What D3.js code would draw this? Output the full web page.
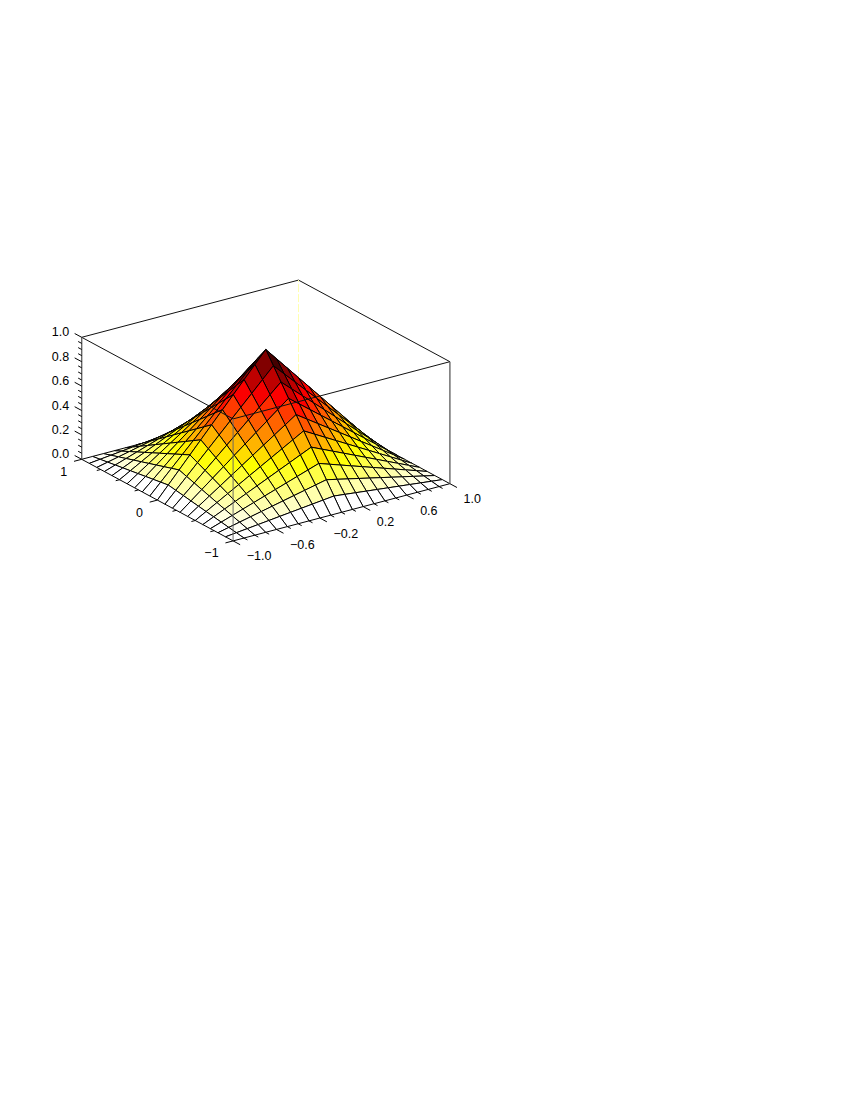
<!DOCTYPE html>
<html>
<head>
<meta charset="utf-8">
<script src="https://cdn.jsdelivr.net/npm/d3@7"></script>
<style>
body { margin: 0; background: white; }
text { font-family: "Liberation Sans", sans-serif; font-size: 12.5px; fill: #000; }
</style>
</head>
<body>
<script>
var width = 850,
	height = 1100;

// grid positions on both floor axes
var xValues = [-1.0, -0.9, -0.8, -0.7, -0.6, -0.5, -0.4, -0.3, -0.2, -0.1, 0, 0.1, 0.2, 0.3, 0.4, 0.5, 0.6, 0.7, 0.8, 0.9, 1.0];
var yValues = [-1.0, -0.9, -0.8, -0.7, -0.6, -0.5, -0.4, -0.3, -0.2, -0.1, 0, 0.1, 0.2, 0.3, 0.4, 0.5, 0.6, 0.7, 0.8, 0.9, 1.0];

// surface heights, one row per yValue
var zRows = [
	[0, 0, 0, 0, 0, 0, 0, 0, 0, 0, 0, 0, 0, 0, 0, 0, 0, 0, 0, 0, 0],
	[0, .01, .02, .03, .04, .05, .06, .07, .08, .09, .10, .09, .08, .07, .06, .05, .04, .03, .02, .01, 0],
	[0, .02, .04, .06, .08, .10, .12, .14, .16, .18, .20, .18, .16, .14, .12, .10, .08, .06, .04, .02, 0],
	[0, .03, .06, .09, .12, .15, .18, .21, .24, .27, .30, .27, .24, .21, .18, .15, .12, .09, .06, .03, 0],
	[0, .04, .08, .12, .16, .20, .24, .28, .32, .36, .40, .36, .32, .28, .24, .20, .16, .12, .08, .04, 0],
	[0, .05, .10, .15, .20, .25, .30, .35, .40, .45, .50, .45, .40, .35, .30, .25, .20, .15, .10, .05, 0],
	[0, .06, .12, .18, .24, .30, .36, .42, .48, .54, .60, .54, .48, .42, .36, .30, .24, .18, .12, .06, 0],
	[0, .07, .14, .21, .28, .35, .42, .49, .56, .63, .70, .63, .56, .49, .42, .35, .28, .21, .14, .07, 0],
	[0, .08, .16, .24, .32, .40, .48, .56, .64, .72, .80, .72, .64, .56, .48, .40, .32, .24, .16, .08, 0],
	[0, .09, .18, .27, .36, .45, .54, .63, .72, .81, .90, .81, .72, .63, .54, .45, .36, .27, .18, .09, 0],
	[0, .10, .20, .30, .40, .50, .60, .70, .80, .90, 1.0, .90, .80, .70, .60, .50, .40, .30, .20, .10, 0],
	[0, .09, .18, .27, .36, .45, .54, .63, .72, .81, .90, .81, .72, .63, .54, .45, .36, .27, .18, .09, 0],
	[0, .08, .16, .24, .32, .40, .48, .56, .64, .72, .80, .72, .64, .56, .48, .40, .32, .24, .16, .08, 0],
	[0, .07, .14, .21, .28, .35, .42, .49, .56, .63, .70, .63, .56, .49, .42, .35, .28, .21, .14, .07, 0],
	[0, .06, .12, .18, .24, .30, .36, .42, .48, .54, .60, .54, .48, .42, .36, .30, .24, .18, .12, .06, 0],
	[0, .05, .10, .15, .20, .25, .30, .35, .40, .45, .50, .45, .40, .35, .30, .25, .20, .15, .10, .05, 0],
	[0, .04, .08, .12, .16, .20, .24, .28, .32, .36, .40, .36, .32, .28, .24, .20, .16, .12, .08, .04, 0],
	[0, .03, .06, .09, .12, .15, .18, .21, .24, .27, .30, .27, .24, .21, .18, .15, .12, .09, .06, .03, 0],
	[0, .02, .04, .06, .08, .10, .12, .14, .16, .18, .20, .18, .16, .14, .12, .10, .08, .06, .04, .02, 0],
	[0, .01, .02, .03, .04, .05, .06, .07, .08, .09, .10, .09, .08, .07, .06, .05, .04, .03, .02, .01, 0],
	[0, 0, 0, 0, 0, 0, 0, 0, 0, 0, 0, 0, 0, 0, 0, 0, 0, 0, 0, 0, 0]
];

var xTickLabels = [-1.0, -0.6, -0.2, 0.2, 0.6, 1.0];
var yTickLabels = [-1, 0, 1];
var zTickLabels = [0, 0.2, 0.4, 0.6, 0.8, 1.0];

var xMinor = [-0.9, -0.8, -0.7, -0.5, -0.4, -0.3, -0.1, 0, 0.1, 0.3, 0.4, 0.5, 0.7, 0.8, 0.9];
var yMinor = [-0.75, -0.5, -0.25, 0.25, 0.5, 0.75];
var zMinor = [0.05, 0.1, 0.15, 0.25, 0.3, 0.35, 0.45, 0.5, 0.55, 0.65, 0.7, 0.75, 0.85, 0.9, 0.95];

var svg = d3.select("body").append("svg").attr("width", width).attr("height", height).style("display", "block");

// orthographic view: every data axis adds its own screen offset
var Xpx = d3.scaleLinear().domain([-1, 1]).range([-108.4, 108.4]);
var Xpy = d3.scaleLinear().domain([-1, 1]).range([28.6, -28.6]);
var Ypx = d3.scaleLinear().domain([-1, 1]).range([75.7, -75.7]);
var Ypy = d3.scaleLinear().domain([-1, 1]).range([40.8, -40.8]);
var Zpy = d3.scaleLinear().domain([0, 1]).range([0, -122]);
var cx = 265.8,
	cy = 471.5;

function project(x, y, z) {
	return [cx + Xpx(x) + Ypx(y), cy + Xpy(x) + Ypy(y) + Zpy(z)];
}

var heat = d3.scaleLinear().domain([0, 0.25, 0.625, 1]).range(["#ffffff", "#ffff00", "#ff0000", "#000000"]);

var seg = d3.line();

function edge(g, a, b, color, w) {
	return g.append("path").attr("d", seg([a, b])).style("fill", "none").style("stroke", color).style("stroke-width", w);
}

// back of the box, behind the surface
var back = svg.append("g");
edge(back, project(-1, 1, 1), project(1, 1, 1), "#111", 1);
edge(back, project(1, 1, 1), project(1, -1, 1), "#111", 1);
edge(back, project(1, 1, 0), project(1, 1, 1), "#ffffb0", 1).style("stroke-dasharray", "8,2");

// cells painted from the far corner to the near one, colored by their low corner
var cells = [];
for (var j = yValues.length - 2; j >= 0; j--) {
	for (var i = xValues.length - 2; i >= 0; i--) {
		cells.push({
			pts: [
				project(xValues[i], yValues[j], zRows[j][i]),
				project(xValues[i + 1], yValues[j], zRows[j][i + 1]),
				project(xValues[i + 1], yValues[j + 1], zRows[j + 1][i + 1]),
				project(xValues[i], yValues[j + 1], zRows[j + 1][i])
			],
			z: zRows[j][i]
		});
	}
}

svg.append("g").selectAll(".cell").data(cells).enter().append("path").attr("class", "cell")
	.attr("d", function(d) {
		return seg(d.pts) + "Z"
	})
	.style("fill", function(d) {
		return heat(d.z)
	})
	.style("stroke", "#000")
	.style("stroke-width", 1)
	.style("stroke-linejoin", "round");

// front of the box, on top of the surface
var front = svg.append("g");
edge(front, project(-1, 1, 1), project(-1, -1, 1), "#111", 1);
edge(front, project(-1, -1, 1), project(1, -1, 1), "#111", 1);
edge(front, project(-1, -1, 0), project(-1, -1, 1), "#666", 1.2).style("opacity", 0.8);
edge(front, project(-1, 1, 0), project(-1, 1, 1), "#666", 1.4);
edge(front, project(1, -1, 0), project(1, -1, 1), "#666", 1.4);

// ticks: unit steps along the floor axes, scaled to a pixel length
var xt = 8 / 86,
	yt = 8 / 113;

xTickLabels.forEach(function(v) {
	edge(front, project(v, -1, 0), project(v, -1 - xt, 0), "#000", 1);
});
xMinor.forEach(function(v) {
	edge(front, project(v, -1, 0), project(v, -1 - xt / 2, 0), "#000", 1);
});
yTickLabels.forEach(function(v) {
	edge(front, project(-1, v, 0), project(-1 - yt, v, 0), "#000", 1);
});
yMinor.forEach(function(v) {
	edge(front, project(-1, v, 0), project(-1 - yt / 2, v, 0), "#000", 1);
});
zTickLabels.forEach(function(v) {
	edge(front, project(-1, 1, v), project(-1, 1 + xt, v), "#000", 1);
});
zMinor.forEach(function(v) {
	edge(front, project(-1, 1, v), project(-1, 1 + xt / 2, v), "#000", 1);
});

function minus(s) {
	return s.replace("-", "\u2212");
}

svg.append("g").selectAll("text").data(xTickLabels).enter().append("text")
	.attr("x", function(d) {
		return project(d, -1, 0)[0] + 13.6
	})
	.attr("y", function(d) {
		return project(d, -1, 0)[1] + 19.5
	})
	.text(function(d) {
		return minus(d.toFixed(1))
	});

svg.append("g").selectAll("text").data(yTickLabels).enter().append("text")
	.attr("text-anchor", "end")
	.attr("x", function(d) {
		return project(-1, d, 0)[0] - 14.5
	})
	.attr("y", function(d) {
		return project(-1, d, 0)[1] + 16.5
	})
	.text(function(d) {
		return minus(String(d))
	});

svg.append("g").selectAll("text").data(zTickLabels).enter().append("text")
	.attr("text-anchor", "end")
	.attr("x", function(d) {
		return project(-1, 1, d)[0] - 12.5
	})
	.attr("y", function(d) {
		return project(-1, 1, d)[1] - 1
	})
	.text(function(d) {
		return d.toFixed(1)
	});
</script>
</body>
</html>
